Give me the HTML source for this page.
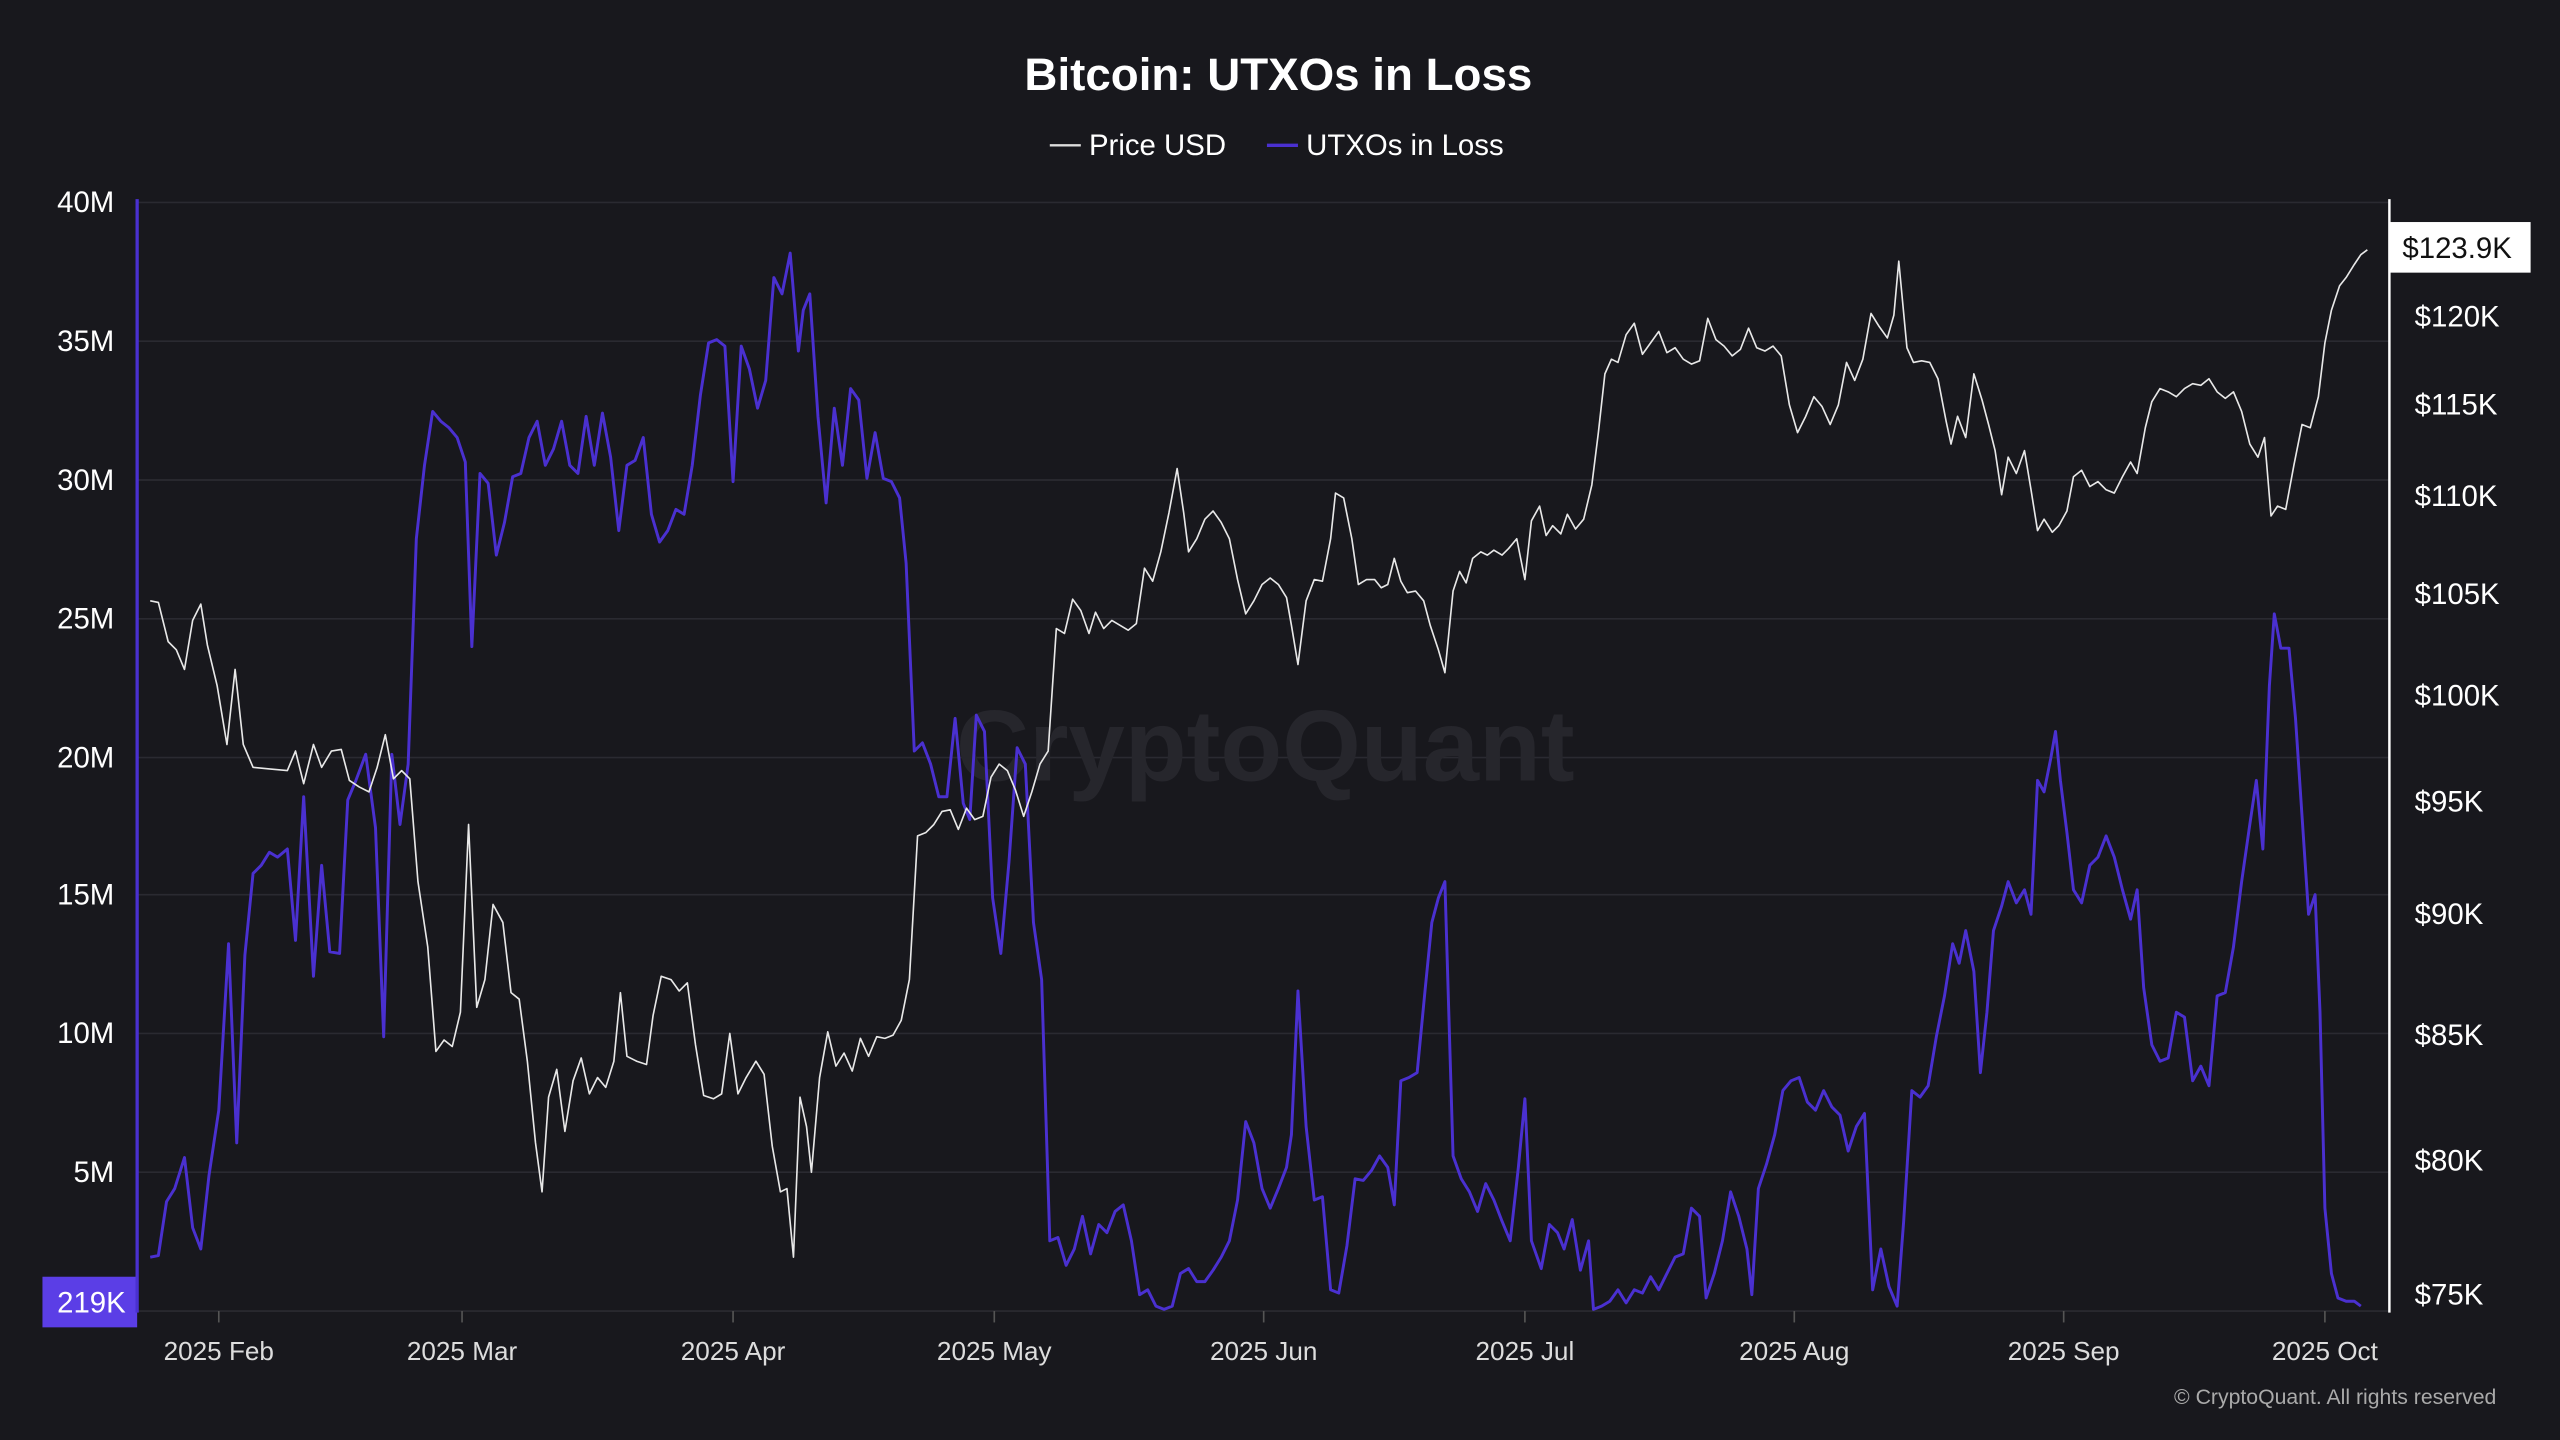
<!DOCTYPE html>
<html><head><meta charset="utf-8"><style>
html,body{margin:0;padding:0;background:#18181d;}
svg{display:block;}
text{font-family:"Liberation Sans",sans-serif;}
</style></head><body>
<svg width="2560" height="1440" viewBox="0 0 1568 882" xmlns="http://www.w3.org/2000/svg">
<rect width="1568" height="882" fill="#18181d"/>
<text x="783" y="55" text-anchor="middle" fill="#fff" font-size="28" font-weight="bold">Bitcoin: UTXOs in Loss</text>
<line x1="643" y1="89" x2="662" y2="89" stroke="#ddd" stroke-width="1.5"/>
<text x="667" y="95" fill="#fff" font-size="18">Price USD</text>
<line x1="776" y1="89" x2="795" y2="89" stroke="#4a30d0" stroke-width="2"/>
<text x="800" y="95" fill="#fff" font-size="18">UTXOs in Loss</text>
<g stroke="#2a2a31" stroke-width="1">
<line x1="84" y1="124" x2="1463" y2="124"/><line x1="84" y1="209" x2="1463" y2="209"/>
<line x1="84" y1="294" x2="1463" y2="294"/><line x1="84" y1="379" x2="1463" y2="379"/>
<line x1="84" y1="464" x2="1463" y2="464"/><line x1="84" y1="548" x2="1463" y2="548"/>
<line x1="84" y1="633" x2="1463" y2="633"/><line x1="84" y1="718" x2="1463" y2="718"/>
<line x1="84" y1="803" x2="1463" y2="803"/>
</g>
<text x="775" y="478" text-anchor="middle" fill="#26262c" font-size="62" font-weight="bold">CryptoQuant</text>
<g fill="#fff" font-size="18" text-anchor="end">
<text x="70" y="130">40M</text><text x="70" y="215">35M</text><text x="70" y="300">30M</text>
<text x="70" y="385">25M</text><text x="70" y="470">20M</text><text x="70" y="554">15M</text>
<text x="70" y="639">10M</text><text x="70" y="724">5M</text>
</g>
<rect x="26" y="782" width="58" height="31" fill="#5b3ee6"/>
<text x="56" y="804" text-anchor="middle" fill="#fff" font-size="18">219K</text>
<g fill="#fff" font-size="18">
<text x="1479" y="200">$120K</text><text x="1479" y="254">$115K</text><text x="1479" y="310">$110K</text>
<text x="1479" y="370">$105K</text><text x="1479" y="432">$100K</text><text x="1479" y="497">$95K</text>
<text x="1479" y="566">$90K</text><text x="1479" y="640">$85K</text><text x="1479" y="717">$80K</text>
<text x="1479" y="799">$75K</text>
</g>
<rect x="1464" y="136" width="86" height="31" fill="#fff"/>
<text x="1505" y="158" text-anchor="middle" fill="#111" font-size="18">$123.9K</text>
<line x1="84" y1="122" x2="84" y2="804" stroke="#4a30d0" stroke-width="2"/>
<line x1="1463.5" y1="122" x2="1463.5" y2="804" stroke="#fff" stroke-width="1.5"/>
<g stroke="#555" stroke-width="1">
<line x1="134" y1="803" x2="134" y2="810"/><line x1="283" y1="803" x2="283" y2="810"/>
<line x1="449" y1="803" x2="449" y2="810"/><line x1="609" y1="803" x2="609" y2="810"/>
<line x1="774" y1="803" x2="774" y2="810"/><line x1="934" y1="803" x2="934" y2="810"/>
<line x1="1099" y1="803" x2="1099" y2="810"/><line x1="1264" y1="803" x2="1264" y2="810"/>
<line x1="1424" y1="803" x2="1424" y2="810"/>
</g>
<g fill="#ddd" font-size="16" text-anchor="middle">
<text x="134" y="833">2025 Feb</text><text x="283" y="833">2025 Mar</text><text x="449" y="833">2025 Apr</text>
<text x="609" y="833">2025 May</text><text x="774" y="833">2025 Jun</text><text x="934" y="833">2025 Jul</text>
<text x="1099" y="833">2025 Aug</text><text x="1264" y="833">2025 Sep</text><text x="1424" y="833">2025 Oct</text>
</g>
<text x="1529" y="860" text-anchor="end" fill="#aaa" font-size="13">© CryptoQuant. All rights reserved</text>
<polyline fill="none" stroke="#4a30d0" stroke-width="1.8" stroke-linejoin="round" points="92,770 97,769 102,736 107,728 113,709 118,752 123,765 128,720 134,680 140,578 145,700 150,585 155,535 160,530 165,522 170,525 176,520 181,576 186,488 192,598 197,530 202,583 208,584 213,490 218,478 224,462 230,507 235,635 240,462 245,505 250,468 255,330 260,285 265,252 270,258 275,262 280,268 285,283 289,396 294,290 299,296 304,340 309,320 314,292 319,290 324,268 329,258 334,285 339,275 344,258 349,285 354,290 359,255 364,285 369,253 374,280 379,325 384,285 389,282 394,268 399,315 404,332 409,325 414,312 419,315 424,285 429,242 434,210 439,208 444,212 449,295 454,212 459,226 464,250 469,233 474,170 479,180 484,155 489,215 492,190 496,180 501,255 506,308 511,250 516,285 521,238 526,245 531,293 536,265 541,293 546,295 551,305 555,345 560,460 565,455 570,468 575,488 580,488 585,440 590,492 594,502 598,438 603,448 608,550 613,584 618,528 623,458 628,468 633,565 638,600 643,760 648,758 653,775 658,765 663,745 668,768 673,750 678,755 683,742 688,738 693,760 698,793 703,790 708,800 713,802 718,800 723,780 728,777 733,785 738,785 743,778 748,770 753,760 758,735 763,687 768,700 773,728 778,740 783,728 788,715 791,695 795,607 800,690 805,735 810,733 815,790 820,792 825,763 830,722 835,723 840,717 845,708 850,715 854,738 858,662 863,660 868,657 873,605 877,565 881,550 885,540 890,708 895,722 900,730 905,742 910,725 915,735 920,748 925,760 930,715 934,673 938,760 944,777 949,750 954,755 958,765 963,747 968,778 973,760 976,802 981,800 986,797 991,790 996,798 1001,790 1006,792 1011,782 1016,790 1021,780 1026,770 1031,768 1036,740 1041,745 1045,795 1050,780 1055,760 1060,730 1065,745 1070,765 1073,793 1077,728 1082,713 1087,695 1092,668 1097,662 1102,660 1107,675 1112,680 1117,668 1122,678 1127,683 1132,705 1137,690 1142,682 1147,790 1152,765 1157,788 1162,800 1166,748 1171,668 1176,672 1181,665 1186,635 1191,610 1196,578 1200,590 1204,570 1209,595 1213,657 1217,620 1221,570 1226,555 1230,540 1235,553 1240,545 1244,560 1248,478 1252,485 1256,465 1259,448 1262,478 1266,510 1270,545 1275,553 1280,530 1285,525 1290,512 1295,525 1300,545 1305,563 1309,545 1313,605 1318,640 1323,650 1328,648 1333,620 1338,623 1343,662 1348,653 1353,665 1358,610 1363,608 1368,580 1373,540 1378,505 1382,478 1386,520 1390,420 1393,376 1397,397 1402,397 1406,440 1410,500 1414,560 1418,548 1421,620 1424,740 1428,780 1432,795 1437,797 1442,797 1446,800"/>
<polyline fill="none" stroke="#e8e8e8" stroke-width="1" stroke-linejoin="round" points="92,368 97,369 103,393 108,398 113,410 118,380 123,370 127,395 133,420 139,456 144,410 149,456 155,470 165,471 176,472 181,460 186,480 192,456 197,470 203,460 209,459 214,478 220,482 226,485 231,470 236,450 241,477 246,472 251,477 256,540 262,580 267,644 272,637 277,641 282,620 287,505 292,617 297,600 302,554 308,565 313,608 318,612 323,650 328,700 332,730 336,672 341,655 346,693 351,662 356,648 361,670 366,660 371,666 376,650 380,608 384,647 390,650 396,652 400,622 405,598 411,600 416,607 421,602 426,640 431,671 437,673 442,670 447,633 452,670 457,660 463,650 468,658 473,702 478,730 482,728 486,770 490,672 494,690 497,718 502,660 507,632 512,653 517,645 522,656 527,636 532,647 537,635 542,636 547,634 552,625 557,600 562,512 567,510 572,505 577,497 582,496 587,508 592,495 597,502 602,500 607,476 612,468 617,472 622,484 627,500 632,485 637,468 642,460 647,385 652,388 657,367 662,374 667,388 671,375 676,385 681,380 686,383 691,386 696,382 701,348 706,356 711,338 716,314 721,287 725,314 728,338 733,330 738,318 743,313 748,320 753,330 758,355 763,376 768,368 773,358 778,354 783,358 788,366 791,383 795,407 800,368 805,355 810,356 815,330 818,302 823,305 828,330 832,358 837,355 842,355 846,360 850,358 854,342 858,356 862,363 867,362 872,368 876,383 881,398 885,412 890,362 894,350 898,357 902,342 907,338 911,340 915,337 920,340 924,336 929,330 934,355 938,319 943,310 947,328 951,322 956,327 960,315 965,324 970,318 975,297 979,265 983,229 987,220 991,222 996,205 1001,198 1006,217 1011,210 1016,203 1021,216 1026,213 1031,220 1036,223 1041,221 1046,195 1051,208 1056,212 1061,218 1066,214 1071,201 1076,213 1081,215 1086,212 1091,218 1096,248 1101,265 1106,255 1111,243 1116,249 1121,260 1126,248 1131,222 1136,233 1141,220 1146,192 1151,200 1156,207 1160,193 1163,160 1168,213 1172,222 1177,221 1182,222 1187,232 1192,258 1195,272 1199,255 1204,268 1209,229 1214,245 1218,260 1222,276 1226,303 1230,280 1235,290 1240,276 1244,300 1248,325 1252,318 1257,326 1261,322 1266,313 1270,292 1275,288 1280,298 1285,295 1290,300 1295,302 1300,292 1305,283 1309,290 1314,262 1318,246 1323,238 1328,240 1333,243 1338,238 1343,235 1348,236 1353,232 1358,240 1363,244 1368,240 1373,252 1378,272 1383,280 1387,268 1391,316 1395,310 1400,312 1405,285 1410,260 1415,262 1420,243 1424,210 1428,190 1433,175 1437,170 1442,162 1446,156 1450,153"/>
</svg>
</body></html>
